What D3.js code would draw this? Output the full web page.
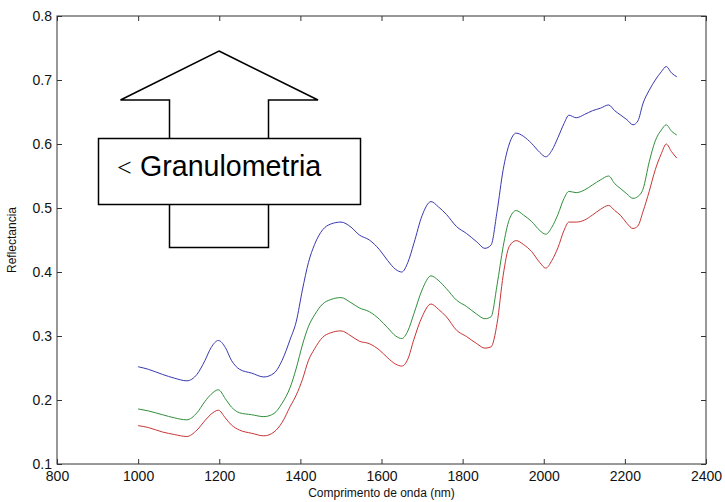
<!DOCTYPE html>
<html>
<head>
<meta charset="utf-8">
<script src="https://cdn.jsdelivr.net/npm/d3@7"></script>
<style>
  html, body { margin: 0; padding: 0; background: #fff; }
  svg { display: block; }
</style>
</head>
<body>
<svg id="chart" width="725" height="502"></svg>
<script>
// ---- Data ----
const wavelengths = [1000,1025,1060,1090,1120,1145,1165,1180,1198,1215,1230,1250,1280,1310,1335,1355,1375,1390,1405,1420,1435,1455,1475,1500,1525,1545,1570,1595,1615,1635,1650,1665,1680,1700,1722,1740,1760,1785,1810,1835,1855,1870,1885,1900,1915,1932,1950,1970,1990,2005,2020,2035,2050,2062,2080,2100,2120,2140,2160,2175,2190,2205,2220,2232,2245,2260,2275,2290,2302,2315,2328];

const blueSeries = [0.252,0.248,0.240,0.234,0.230,0.240,0.262,0.282,0.293,0.282,0.262,0.248,0.242,0.236,0.242,0.262,0.295,0.323,0.372,0.415,0.443,0.466,0.475,0.478,0.470,0.458,0.450,0.435,0.418,0.404,0.400,0.415,0.445,0.488,0.510,0.502,0.490,0.471,0.460,0.447,0.437,0.442,0.495,0.560,0.600,0.617,0.612,0.601,0.587,0.580,0.590,0.610,0.632,0.645,0.641,0.646,0.652,0.656,0.661,0.652,0.645,0.638,0.630,0.636,0.664,0.684,0.700,0.713,0.721,0.711,0.705];

const greenSeries = [0.186,0.183,0.177,0.172,0.169,0.180,0.198,0.209,0.216,0.202,0.189,0.180,0.177,0.174,0.179,0.195,0.220,0.250,0.286,0.315,0.333,0.350,0.357,0.360,0.352,0.344,0.338,0.326,0.313,0.300,0.296,0.308,0.335,0.372,0.394,0.387,0.374,0.356,0.346,0.334,0.327,0.330,0.380,0.440,0.482,0.496,0.489,0.479,0.465,0.459,0.470,0.490,0.515,0.526,0.524,0.528,0.536,0.544,0.550,0.538,0.530,0.522,0.515,0.518,0.530,0.572,0.605,0.622,0.630,0.620,0.614];

const redSeries = [0.160,0.157,0.150,0.146,0.143,0.153,0.168,0.178,0.184,0.172,0.161,0.153,0.148,0.144,0.150,0.165,0.190,0.208,0.232,0.262,0.280,0.298,0.305,0.308,0.300,0.292,0.288,0.278,0.266,0.256,0.253,0.264,0.295,0.330,0.350,0.342,0.330,0.309,0.299,0.288,0.281,0.283,0.320,0.395,0.440,0.449,0.443,0.432,0.415,0.406,0.418,0.438,0.465,0.478,0.478,0.481,0.489,0.498,0.504,0.496,0.488,0.476,0.468,0.472,0.495,0.526,0.560,0.585,0.600,0.588,0.578];

const xTicks = [800,1000,1200,1400,1600,1800,2000,2200,2400];
const yTicks = [0.1,0.2,0.3,0.4,0.5,0.6,0.7,0.8];
const xLabel = "Comprimento de onda (nm)";
const yLabel = "Reflectancia";
const annotationText = "Granulometria";

// ---- Layout ----
const svg = d3.select("#chart");
const mLeft = 57, mRight = 706, mTop = 16, mBottom = 464;
const x = d3.scaleLinear().domain([800, 2400]).range([mLeft, mRight]);
const y = d3.scaleLinear().domain([0.1, 0.8]).range([mBottom, mTop]);
const font = "'Liberation Sans', Arial, sans-serif";
const axisColor = "#333";

// ---- Series ----
const series = [
  { values: blueSeries, color: "#3838b0" },
  { values: greenSeries, color: "#2f8f3a" },
  { values: redSeries, color: "#c83434" }
];
const line = d3.line()
  .x((d, i) => x(wavelengths[i]))
  .y(d => y(d))
  .curve(d3.curveMonotoneX);
svg.append("g").selectAll("path").data(series).join("path")
  .attr("d", s => line(s.values))
  .attr("fill", "none")
  .attr("stroke", s => s.color)
  .attr("stroke-width", 1);

// ---- Axes (MATLAB-like box with inward ticks on all sides) ----
function styleAxis(g) {
  g.select(".domain").remove();
  g.selectAll(".tick line").attr("stroke", axisColor);
  g.selectAll(".tick text").attr("fill", "#111").attr("font-family", font).attr("font-size", 14);
}
const xAxisB = svg.append("g").attr("transform", `translate(0,${mBottom})`)
  .call(d3.axisBottom(x).tickValues(xTicks).tickSizeInner(-5).tickSizeOuter(0).tickPadding(7).tickFormat(d3.format("d")));
styleAxis(xAxisB);
const xAxisT = svg.append("g").attr("transform", `translate(0,${mTop})`)
  .call(d3.axisTop(x).tickValues(xTicks).tickSizeInner(-5).tickSizeOuter(0).tickFormat(""));
styleAxis(xAxisT);
const yAxisL = svg.append("g").attr("transform", `translate(${mLeft},0)`)
  .call(d3.axisLeft(y).tickValues(yTicks).tickSizeInner(-5).tickSizeOuter(0).tickPadding(5).tickFormat(d3.format(".1f")));
styleAxis(yAxisL);
const yAxisR = svg.append("g").attr("transform", `translate(${mRight},0)`)
  .call(d3.axisRight(y).tickValues(yTicks).tickSizeInner(-5).tickSizeOuter(0).tickFormat(""));
styleAxis(yAxisR);

svg.append("rect")
  .attr("x", mLeft).attr("y", mTop)
  .attr("width", mRight - mLeft).attr("height", mBottom - mTop)
  .attr("fill", "none").attr("stroke", axisColor).attr("stroke-width", 1);

// ---- Axis labels ----
svg.append("text")
  .attr("x", (mLeft + mRight) / 2).attr("y", 497)
  .attr("text-anchor", "middle")
  .attr("font-family", font).attr("font-size", 12).attr("fill", "#111")
  .text(xLabel);
svg.append("text")
  .attr("transform", `translate(16,${(mTop + mBottom) / 2}) rotate(-90)`)
  .attr("text-anchor", "middle")
  .attr("font-family", font).attr("font-size", 12).attr("fill", "#111")
  .text(yLabel);

// ---- Annotation: up arrow with label box ----
const arrow = [
  [219, 51], [318, 100], [268.5, 100], [268.5, 247.5],
  [169.5, 247.5], [169.5, 100], [120.5, 100]
];
svg.append("polygon")
  .attr("points", arrow.map(p => p.join(",")).join(" "))
  .attr("fill", "#fff").attr("stroke", "#000").attr("stroke-width", 1.5);
svg.append("rect")
  .attr("x", 98.5).attr("y", 138.5).attr("width", 262).attr("height", 66)
  .attr("fill", "#fff").attr("stroke", "#000").attr("stroke-width", 1.5);
const t = svg.append("text")
  .attr("x", 117).attr("y", 176)
  .attr("font-family", font).attr("font-size", 28.6).attr("fill", "#000");
t.append("tspan").attr("font-family", "'Liberation Serif', serif").attr("font-size", 26).text("<");
t.append("tspan").attr("x", 140).text(annotationText);
</script>
</body>
</html>
